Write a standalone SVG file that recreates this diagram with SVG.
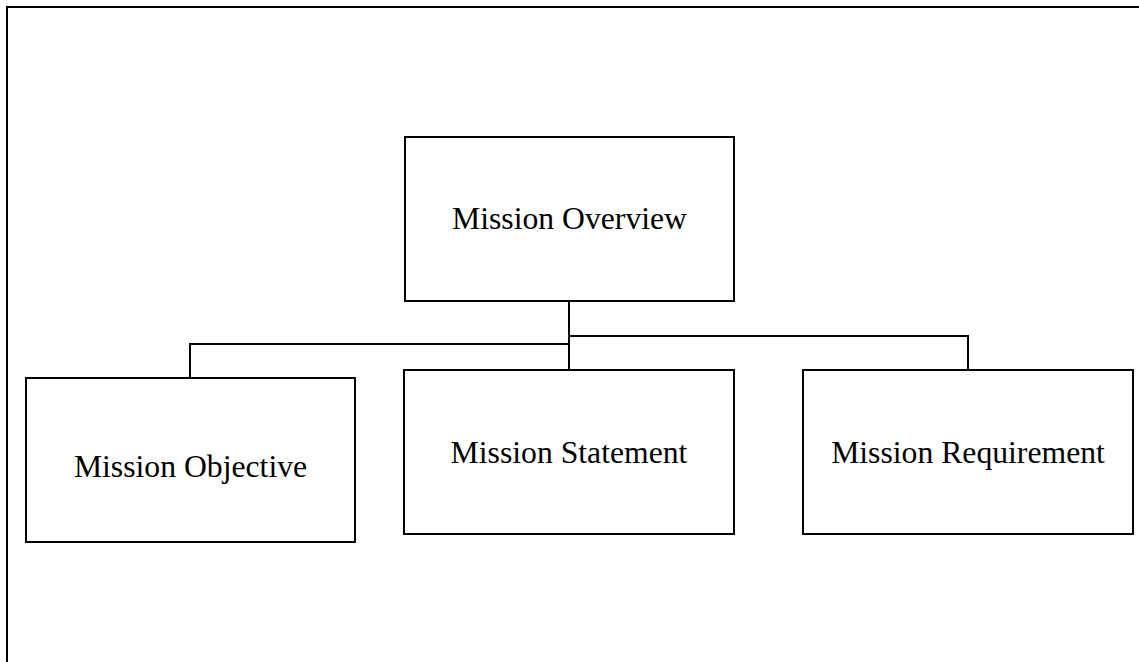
<svg xmlns="http://www.w3.org/2000/svg" width="1139" height="662" viewBox="0 0 1139 662">
  <style>
    .box { fill: #ffffff; stroke: #000000; stroke-width: 2; }
    .frame { fill: none; stroke: #000000; stroke-width: 2; }
    .wire { fill: none; stroke: #000000; stroke-width: 2; }
    .label { font-family: "Liberation Serif", "Times New Roman", serif; font-size: 31.7px; fill: #000000; text-anchor: middle; }
  </style>
  <rect width="1139" height="662" fill="#ffffff"/>
  <!-- page frame -->
  <rect class="frame" x="7" y="7" width="1140" height="670"/>

  <!-- connectors -->
  <g id="connectors">
    <path class="wire" d="M569,301 V370"/>
    <path class="wire" d="M569,344 H190 V378"/>
    <path class="wire" d="M569,336 H968 V370"/>
  </g>

  <g id="node-overview">
    <rect class="box" x="405" y="137" width="329" height="164"/>
    <text class="label" x="569.5" y="229">Mission Overview</text>
  </g>
  <g id="node-objective">
    <rect class="box" x="26" y="378" width="329" height="164"/>
    <text class="label" x="190.5" y="477">Mission Objective</text>
  </g>
  <g id="node-statement">
    <rect class="box" x="404" y="370" width="330" height="164"/>
    <text class="label" x="569" y="463">Mission Statement</text>
  </g>
  <g id="node-requirement">
    <rect class="box" x="803" y="370" width="330" height="164"/>
    <text class="label" x="968" y="463">Mission Requirement</text>
  </g>
</svg>
